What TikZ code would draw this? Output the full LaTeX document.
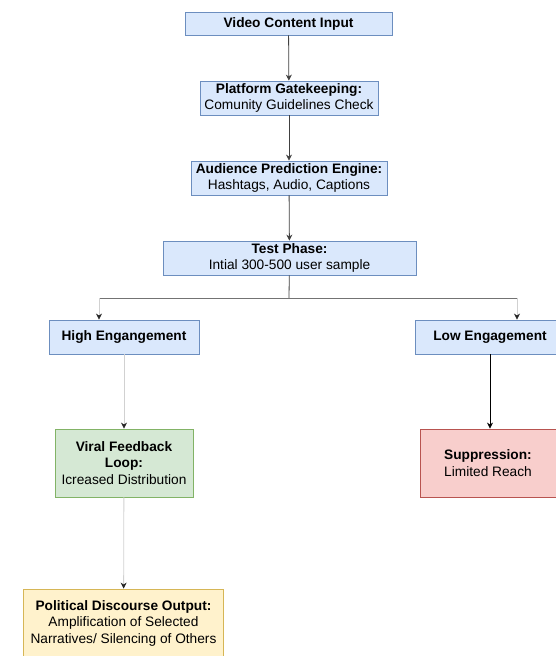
\documentclass[tikz,border=0pt]{standalone}
\usepackage{fontspec}
\setmainfont{Liberation Sans}
\usetikzlibrary{arrows.meta}
\definecolor{bluefill}{HTML}{DAE8FC}
\definecolor{blueline}{HTML}{6C8EBF}
\definecolor{greenfill}{HTML}{D5E8D4}
\definecolor{greenline}{HTML}{82B366}
\definecolor{redfill}{HTML}{F8CECC}
\definecolor{redline}{HTML}{B85450}
\definecolor{yellowfill}{HTML}{FFF2CC}
\definecolor{yellowline}{HTML}{D6B656}
\tikzset{
  box/.style={draw, line width=0.8pt, align=center, inner sep=0pt,
    font=\fontsize{13.7}{16.5}\selectfont},
  bluebox/.style={box, fill=bluefill, draw=blueline},
  greenbox/.style={box, fill=greenfill, draw=greenline},
  redbox/.style={box, fill=redfill, draw=redline},
  yellowbox/.style={box, fill=yellowfill, draw=yellowline},
  flow/.style={draw=black!75, line width=0.8pt, -{Stealth[length=6pt,width=6pt]}},
  lightflow/.style={draw=black!18, line width=0.8pt, -{Stealth[length=6pt,width=6pt,color=black!85]}}
}
\begin{document}
\begin{tikzpicture}
\useasboundingbox (0pt,0pt) rectangle (555pt,-656pt);
\fill[white] (0pt,0pt) rectangle (555pt,-656pt);
\node[bluebox, minimum width=207pt, minimum height=23pt] (input) at (288.5pt,-23.5pt) {\textbf{Video Content Input}};
\node[bluebox, minimum width=178pt, minimum height=34pt] (gate) at (289pt,-98pt) {\textbf{Platform Gatekeeping:}\\Comunity Guidelines Check};
\node[bluebox, minimum width=196pt, minimum height=34pt] (engine) at (289pt,-178pt) {\textbf{Audience Prediction Engine:}\\Hashtags, Audio, Captions};
\node[bluebox, minimum width=253pt, minimum height=34pt] (test) at (289.5pt,-258pt) {\textbf{Test Phase:}\\Intial 300-500 user sample};
\node[bluebox, minimum width=150pt, minimum height=34pt] (high) at (124pt,-337pt) {\textbf{High Engangement}};
\node[bluebox, minimum width=150pt, minimum height=34pt] (low) at (490pt,-337pt) {\textbf{Low Engagement}};
\node[greenbox, minimum width=138pt, minimum height=68pt] (viral) at (124pt,-463pt) {\textbf{Viral Feedback}\\\textbf{Loop:}\\Icreased Distribution};
\node[redbox, minimum width=136pt, minimum height=68pt] (supp) at (488pt,-463pt) {\textbf{Suppression:}\\Limited Reach};
\node[yellowbox, minimum width=200pt, minimum height=68pt] (output) at (123.5pt,-623pt) {\textbf{Political Discourse Output:}\\Amplification of Selected\\Narratives/ Silencing of Others};
% split after the test phase
\coordinate (split) at (289pt,-298pt);
\coordinate (splitl) at (99pt,-298pt);
\coordinate (splitr) at (517pt,-298pt);
\draw[flow] (input) -- (gate);
\draw[flow] (gate) -- (engine);
\draw[flow] (engine) -- (test);
\draw[draw=black!75, line width=0.8pt] (test) -- (split);
\draw[draw=black!55, line width=0.8pt] (splitl) -- (splitr);
\draw[lightflow] (splitl) -- (splitl |- high.north);
\draw[lightflow] (splitr) -- (splitr |- low.north);
\draw[lightflow] (high) -- (viral);
\draw[lightflow] (viral) -- (output);
\draw[flow, draw=black] (low.south) -- (low.south |- supp.north);
\end{tikzpicture}
\end{document}
